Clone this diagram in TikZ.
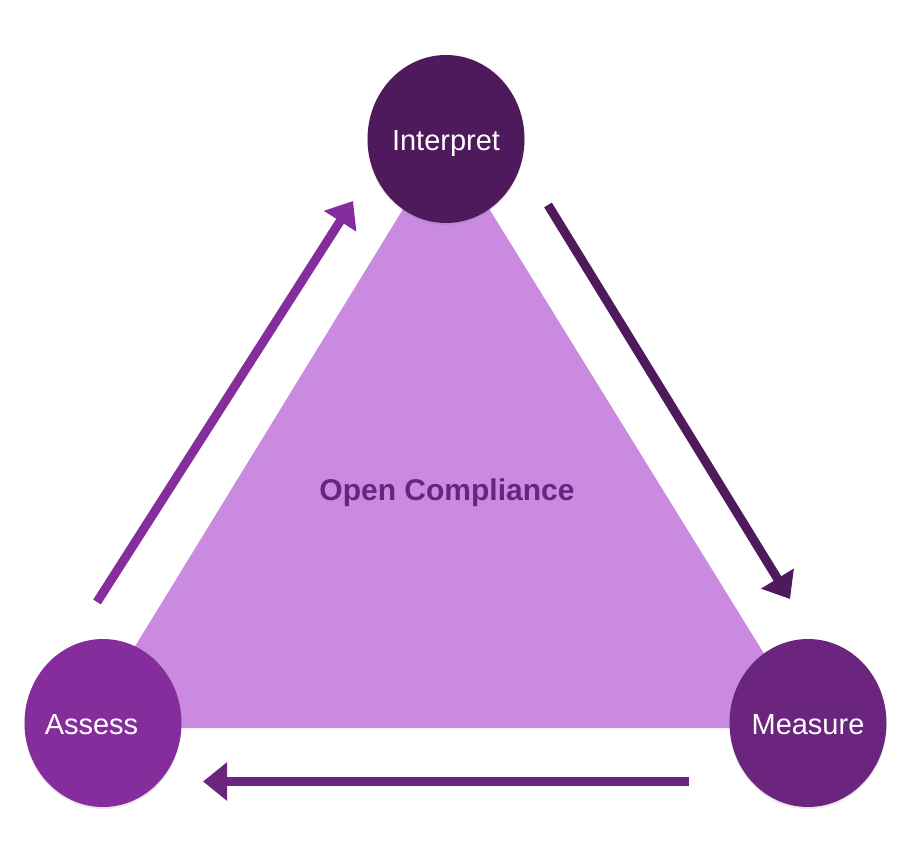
\documentclass[tikz,border=0pt]{standalone}
\usepackage{fontspec}
\setmainfont{Liberation Sans}
\usepackage{tikz}
\usetikzlibrary{shapes.geometric, arrows.meta, shadows}

\definecolor{interpretc}{HTML}{4E1A5B}
\definecolor{assessc}{HTML}{852D9C}
\definecolor{measurec}{HTML}{6B257F}
\definecolor{trianglec}{HTML}{C98ADF}
\definecolor{titlec}{HTML}{6A2380}

\begin{document}
\begin{tikzpicture}[x=1bp, y=-1bp]
        \tikzstyle{stage} = [ellipse, minimum width=157bp, minimum height=168bp, inner xsep=-15bp, inner ysep=0pt, text=white, text height=23bp, text depth=0bp, font=\fontsize{29bp}{34bp}\selectfont, drop shadow={shadow xshift=0bp, shadow yshift=-2bp, opacity=0.18}]
        \tikzstyle{arrow} = [line width=9bp, -{Triangle[length=24bp, width=37bp]}]

        \useasboundingbox (0,0) rectangle (918,858);

        % triangle behind the circles
        \coordinate (apex) at (446,139);
        \coordinate (baseleft) at (85,728);
        \coordinate (baseright) at (810,728);
        \fill [trianglec] (apex) -- (baseleft) -- (baseright) -- cycle;

        \node (title) [anchor=base, text=titlec, font=\bfseries\fontsize{30bp}{35bp}\selectfont] at (447,500) {Open Compliance};

        \node (interpret) [stage, fill=interpretc] at (446,139) {Interpret};
        \node (assess) [stage, fill=assessc] at (103,723) {Assess\hspace*{23bp}};
        \node (measure) [stage, fill=measurec] at (808,723) {Measure};

        % arrow ends
        \coordinate (up1) at (97,602);
        \coordinate (up2) at (353,201);
        \coordinate (down1) at (548,205);
        \coordinate (down2) at (790,599);
        \coordinate (back1) at (689,781.5);
        \coordinate (back2) at (203,781.5);

        \draw [arrow, assessc] (up1) -- (up2);
        \draw [arrow, interpretc] (down1) -- (down2);
        \draw [arrow, measurec] (back1) -- (back2);
    \end{tikzpicture}
\end{document}
